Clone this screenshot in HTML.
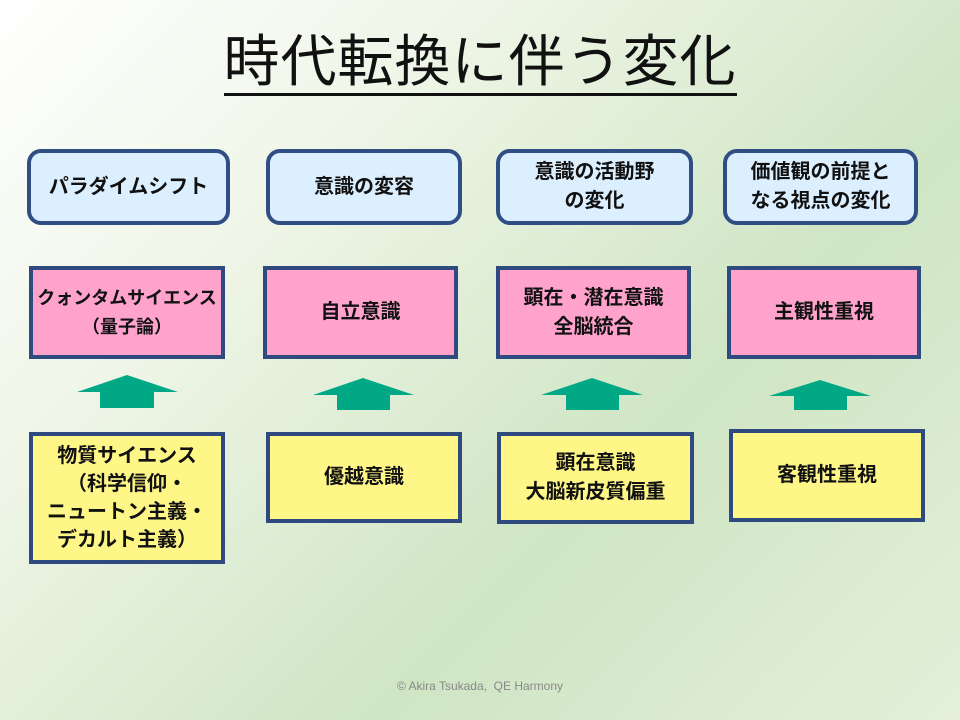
<!DOCTYPE html>
<html><head><meta charset="utf-8"><style>
body{margin:0;width:960px;height:720px;overflow:hidden;position:relative;
background:linear-gradient(135deg,#ffffff 0%,#eef5e6 30%,#cfe5c4 65%,#e4f0da 100%);
font-family:"Liberation Sans","Noto Sans CJK JP",sans-serif;}
.t{position:absolute;left:0;width:960px;top:26px;text-align:center;font-size:56px;color:#111;line-height:72px;letter-spacing:1px;}
.t span{border-bottom:3px solid #111;padding-bottom:0px}
.b{position:absolute;display:flex;align-items:center;justify-content:center;text-align:center;font-weight:bold;color:#111;box-sizing:border-box;font-size:20px;line-height:29px;}
.r{background:#dcefff;border:4px solid #2f4f84;border-radius:14px;}
.p{background:#ffa3cd;border:4px solid #2e4a7f;}
.y{background:#fff688;border:4px solid #2e4a7f;}
.foot{position:absolute;top:679px;left:0;width:960px;text-align:center;font-size:12px;color:#888;}
</style></head><body>
<div class="t"><span>時代転換に伴う変化</span></div>

<div class="b r" style="left:27px;top:149px;width:203px;height:76px">パラダイムシフト</div>
<div class="b r" style="left:266px;top:149px;width:196px;height:76px">意識の変容</div>
<div class="b r" style="left:496px;top:149px;width:197px;height:76px">意識の活動野<br>の変化</div>
<div class="b r" style="left:723px;top:149px;width:195px;height:76px">価値観の前提と<br>なる視点の変化</div>

<div class="b p" style="left:29px;top:266px;width:196px;height:93px;font-size:18px">クォンタムサイエンス<br>（量子論）</div>
<div class="b p" style="left:263px;top:266px;width:195px;height:93px">自立意識</div>
<div class="b p" style="left:496px;top:266px;width:195px;height:93px">顕在・潜在意識<br>全脳統合</div>
<div class="b p" style="left:727px;top:266px;width:194px;height:93px">主観性重視</div>

<svg style="position:absolute;left:0;top:0" width="960" height="720">
<g fill="#00a886">
<polygon points="77,392 127,375 178,392 154,392 154,408 100,408 100,392"/>
<polygon points="313,395 363,378 414,395 390,395 390,410 337,410 337,395"/>
<polygon points="541,395 592,378 643,395 619,395 619,410 566,410 566,395"/>
<polygon points="769,396 820,380 871,396 847,396 847,410 794,410 794,396"/>
</g></svg>

<div class="b y" style="left:29px;top:432px;width:196px;height:132px;line-height:28px">物質サイエンス<br>（科学信仰・<br>ニュートン主義・<br>デカルト主義）</div>
<div class="b y" style="left:266px;top:432px;width:196px;height:91px">優越意識</div>
<div class="b y" style="left:497px;top:432px;width:197px;height:92px">顕在意識<br>大脳新皮質偏重</div>
<div class="b y" style="left:729px;top:429px;width:196px;height:93px">客観性重視</div>

<div class="foot">© Akira Tsukada,&nbsp; QE Harmony</div>
</body></html>
